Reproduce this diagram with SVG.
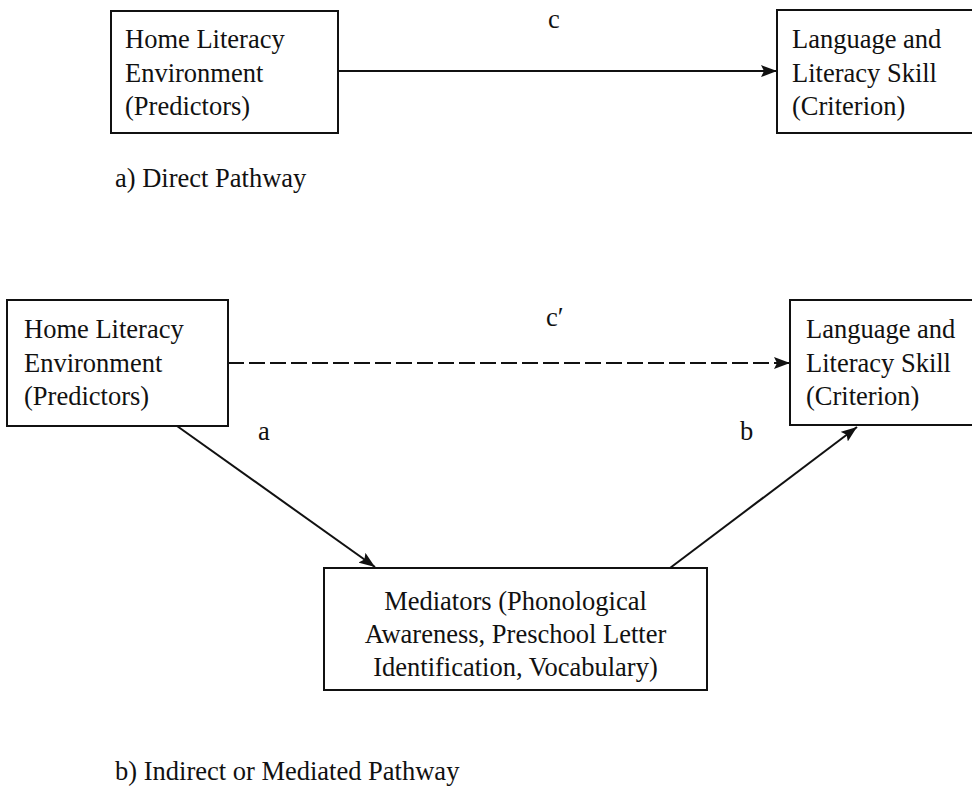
<svg xmlns="http://www.w3.org/2000/svg" width="972" height="788" viewBox="0 0 972 788">
<style>
.box{fill:#fff;stroke:#111;stroke-width:2}
.t{font-family:'Liberation Serif','Times New Roman',serif;font-size:26.5px;fill:#111}
.ln{stroke:#111;stroke-width:2;fill:none}
.dash{stroke-dasharray:16 5}
</style>
<defs>
<marker id="ah" viewBox="0 0 16 12" refX="16" refY="6" markerWidth="16" markerHeight="12" markerUnits="userSpaceOnUse" orient="auto">
<path d="M0,0 L16,6 L0,12 L3,6 Z" fill="#111"/>
</marker>
</defs>
<rect width="972" height="788" fill="#fff"/>
<g id="connectors">
<line class="ln" x1="338" y1="71" x2="777" y2="71" marker-end="url(#ah)"/>
<line class="ln dash" x1="228" y1="363" x2="790" y2="363" marker-end="url(#ah)"/>
<line class="ln" x1="177" y1="426" x2="375" y2="567" marker-end="url(#ah)"/>
<line class="ln" x1="670" y1="568" x2="857" y2="427" marker-end="url(#ah)"/>
<text class="t" x="548" y="28">c</text>
<text class="t" x="546" y="326">c′</text>
<text class="t" x="258" y="440">a</text>
<text class="t" x="740" y="440">b</text>
</g>
<g id="hle-top">
<rect class="box" x="111" y="11" width="227" height="122"/>
<text class="t" x="125" y="48">Home Literacy</text>
<text class="t" x="125" y="82">Environment</text>
<text class="t" x="125" y="115">(Predictors)</text>
</g>
<g id="lls-top">
<rect class="box" x="777" y="10" width="205" height="123"/>
<text class="t" x="792" y="48">Language and</text>
<text class="t" x="792" y="82">Literacy Skill</text>
<text class="t" x="792" y="115">(Criterion)</text>
</g>
<text class="t" x="115" y="187">a) Direct Pathway</text>
<g id="hle-bottom">
<rect class="box" x="7" y="300" width="221" height="126"/>
<text class="t" x="24" y="338">Home Literacy</text>
<text class="t" x="24" y="372">Environment</text>
<text class="t" x="24" y="405">(Predictors)</text>
</g>
<g id="lls-bottom">
<rect class="box" x="790" y="300" width="192" height="125"/>
<text class="t" x="806" y="338">Language and</text>
<text class="t" x="806" y="372">Literacy Skill</text>
<text class="t" x="806" y="405">(Criterion)</text>
</g>
<g id="mediators">
<rect class="box" x="324" y="568" width="383" height="122"/>
<text class="t" x="515.5" y="610" text-anchor="middle">Mediators (Phonological</text>
<text class="t" x="515.5" y="643" text-anchor="middle">Awareness, Preschool Letter</text>
<text class="t" x="515.5" y="676" text-anchor="middle">Identification, Vocabulary)</text>
</g>
<text class="t" x="115" y="780">b) Indirect or Mediated Pathway</text>
</svg>
